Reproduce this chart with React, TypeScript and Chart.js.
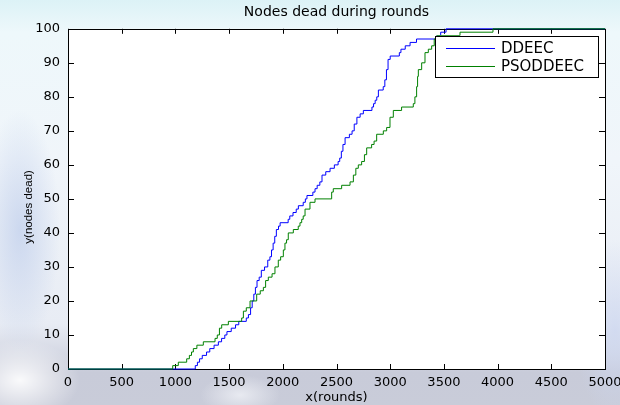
import React, { useEffect, useRef } from "react";
import { Chart, registerables } from "chart.js";

Chart.register(...registerables);

const chartTitle = "Nodes dead during rounds";
const xAxisTitle = "x(rounds)";
const yAxisTitle = "y(nodes dead)";
const seriesNames = ["DDEEC", "PSODDEEC"];
const seriesColors = ["#0000ff", "#008000"];

const ddeecX = [0, 1185, 1205, 1225, 1250, 1290, 1320, 1360, 1400, 1430, 1460, 1480, 1520, 1560, 1590, 1660, 1680, 1700, 1715, 1730, 1745, 1760, 1780, 1800, 1830, 1860, 1880, 1895, 1910, 1925, 1940, 1960, 1975, 2050, 2065, 2095, 2125, 2145, 2190, 2210, 2225, 2280, 2300, 2320, 2345, 2365, 2400, 2440, 2480, 2515, 2530, 2545, 2560, 2580, 2620, 2645, 2665, 2690, 2720, 2750, 2830, 2845, 2860, 2875, 2890, 2935, 2950, 2965, 2980, 3000, 3085, 3100, 3140, 3185, 3245, 3435, 3470, 3520, 5000];
const ddeecY = [0, 1, 2, 3, 4, 5, 6, 7, 8, 9, 10, 11, 12, 13, 14, 15, 16, 18, 20, 22, 24, 26, 27, 29, 30, 32, 33, 35, 37, 39, 41, 42, 43, 44, 45, 46, 47, 48, 49, 50, 51, 52, 53, 54, 55, 57, 58, 59, 60, 61, 62, 64, 66, 68, 69, 70, 72, 74, 75, 76, 77, 78, 79, 80, 82, 83, 85, 88, 91, 92, 93, 94, 95, 96, 97, 98, 99, 100, 100];

const psoX = [0, 975, 1027, 1105, 1130, 1150, 1167, 1200, 1260, 1369, 1390, 1410, 1431, 1493, 1617, 1633, 1660, 1695, 1757, 1790, 1819, 1840, 1865, 1900, 1927, 1958, 1980, 2005, 2020, 2035, 2051, 2098, 2144, 2160, 2176, 2190, 2207, 2253, 2300, 2455, 2470, 2548, 2626, 2657, 2680, 2703, 2734, 2760, 2781, 2827, 2850, 2874, 2936, 2967, 2998, 3029, 3106, 3215, 3230, 3246, 3255, 3262, 3293, 3324, 3355, 3386, 3410, 3433, 3650, 3957, 5000];
const psoY = [0, 1, 2, 3, 4, 5, 6, 7, 8, 9, 10, 12, 13, 14, 15, 17, 18, 20, 22, 23, 24, 26, 27, 28, 30, 32, 33, 35, 37, 38, 40, 41, 42, 43, 44, 45, 47, 49, 50, 52, 53, 54, 55, 57, 59, 60, 61, 63, 65, 66, 67, 69, 70, 71, 74, 76, 77, 78, 80, 83, 86, 88, 90, 93, 94, 95, 97, 98, 99, 100, 100];

const xTicks = [0, 500, 1000, 1500, 2000, 2500, 3000, 3500, 4000, 4500, 5000];
const yTicks = [0, 10, 20, 30, 40, 50, 60, 70, 80, 90, 100];

const toPoints = (xs: number[], ys: number[]) => xs.map((x, i) => ({ x, y: ys[i] }));

const framePlugin = {
  id: "matlabFrame",
  beforeDatasetsDraw(chart: any) {
    const { ctx, chartArea: a, scales } = chart;
    ctx.save();
    ctx.fillStyle = "#ffffff";
    ctx.fillRect(a.left, a.top, a.right - a.left, a.bottom - a.top);
    ctx.strokeStyle = "#000000";
    ctx.lineWidth = 1;
    ctx.beginPath();
    for (const v of xTicks) {
      const px = Math.round(scales.x.getPixelForValue(v)) + 0.5;
      ctx.moveTo(px, a.bottom);
      ctx.lineTo(px, a.bottom - 5);
      ctx.moveTo(px, a.top);
      ctx.lineTo(px, a.top + 5);
    }
    for (const v of yTicks) {
      const py = Math.round(scales.y.getPixelForValue(v)) + 0.5;
      ctx.moveTo(a.left, py);
      ctx.lineTo(a.left + 6, py);
      ctx.moveTo(a.right, py);
      ctx.lineTo(a.right - 6, py);
    }
    ctx.stroke();
    ctx.strokeRect(Math.round(a.left) + 0.5, Math.round(a.top) + 0.5, Math.round(a.right - a.left), Math.round(a.bottom - a.top));
    ctx.restore();
  },
  afterDraw(chart: any) {
    const { ctx, chartArea: a } = chart;
    ctx.save();
    ctx.translate(29, (a.top + a.bottom) / 2 + 8);
    ctx.rotate(-Math.PI / 2);
    ctx.font = "11.5px 'Liberation Sans'";
    ctx.fillStyle = "#000000";
    ctx.textAlign = "center";
    ctx.textBaseline = "middle";
    ctx.fillText(yAxisTitle, 0, 0);
    ctx.restore();

    ctx.save();
    const bx = a.right - 170, by = a.top + 7, bw = 163, bh = 41;
    ctx.fillStyle = "#ffffff";
    ctx.fillRect(bx, by, bw, bh);
    ctx.strokeStyle = "#000000";
    ctx.lineWidth = 1;
    ctx.strokeRect(Math.round(bx) + 0.5, Math.round(by) + 0.5, bw, bh);
    ctx.font = "15px 'DejaVu Sans'";
    ctx.textBaseline = "middle";
    ctx.fillStyle = "#000000";
    seriesNames.forEach((name, i) => {
      const y = by + 12.5 + i * 17.5;
      ctx.strokeStyle = seriesColors[i];
      ctx.beginPath();
      ctx.moveTo(bx + 11, Math.round(y) + 0.5);
      ctx.lineTo(bx + 60, Math.round(y) + 0.5);
      ctx.stroke();
      ctx.fillText(name, bx + 66, y + 1);
    });
    ctx.restore();
  },
};

export default function App() {
  const canvasRef = useRef<HTMLCanvasElement | null>(null);

  useEffect(() => {
    document.body.style.margin = "0";
    const canvas = canvasRef.current;
    if (!canvas) return;
    Chart.defaults.font.family = "'DejaVu Sans', sans-serif";
    const chart = new Chart(canvas, {
      type: "line",
      data: {
        datasets: [
          {
            label: seriesNames[0],
            data: toPoints(ddeecX, ddeecY),
            borderColor: seriesColors[0],
            backgroundColor: seriesColors[0],
            borderWidth: 1,
            pointRadius: 0,
            stepped: true,
            fill: false,
            clip: 3,
            order: 1,
          },
          {
            label: seriesNames[1],
            data: toPoints(psoX, psoY),
            borderColor: seriesColors[1],
            backgroundColor: seriesColors[1],
            borderWidth: 1,
            pointRadius: 0,
            stepped: true,
            fill: false,
            clip: 3,
            order: 0,
          },
        ],
      },
      options: {
        responsive: false,
        animation: false,
        devicePixelRatio: 1,
        layout: { padding: { left: 0, right: 15, top: 0, bottom: 0 } },
        plugins: {
          legend: { display: false },
          tooltip: { enabled: false },
          title: {
            display: true,
            text: chartTitle,
            fullSize: false,
            color: "#000000",
            font: { size: 14, weight: "normal", family: "'DejaVu Sans'" },
            padding: { top: 4, bottom: 8 },
          },
        },
        scales: {
          x: {
            type: "linear",
            min: 0,
            max: 5000,
            afterBuildTicks: (scale: any) => {
              scale.ticks = xTicks.map((v) => ({ value: v }));
            },
            afterFit: (scale: any) => {
              scale.height = 36;
              scale.paddingLeft = 0;
              scale.paddingRight = 0;
            },
            grid: { display: false, drawTicks: false },
            border: { display: false },
            ticks: {
              color: "#000000",
              padding: 6,
              maxRotation: 0,
              autoSkip: false,
              font: { size: 13 },
              callback: (v: any) => String(v),
            },
            title: {
              display: true,
              text: xAxisTitle,
              color: "#000000",
              font: { size: 13 },
              padding: { top: 0, bottom: 0 },
            },
          },
          y: {
            type: "linear",
            min: 0,
            max: 100,
            afterBuildTicks: (scale: any) => {
              scale.ticks = yTicks.map((v) => ({ value: v }));
            },
            afterFit: (scale: any) => {
              scale.width = 68;
              scale.paddingTop = 0;
              scale.paddingBottom = 0;
            },
            grid: { display: false, drawTicks: false },
            border: { display: false },
            ticks: {
              color: "#000000",
              padding: 8,
              autoSkip: false,
              font: { size: 13 },
              callback: (v: any) => String(v),
            },
            title: { display: false },
          },
        },
      },
      plugins: [framePlugin],
    });
    return () => chart.destroy();
  }, []);

  const bg = [
    "radial-gradient(ellipse 40px 120px at 20px 230px, rgba(190,205,235,0.7), rgba(190,205,235,0))",
    "radial-gradient(ellipse 60px 40px at 20px 380px, rgba(255,255,255,0.9), rgba(255,255,255,0))",
    "radial-gradient(ellipse 40px 20px at 240px 395px, rgba(235,237,243,0.9), rgba(235,237,243,0))",
    "radial-gradient(ellipse 40px 90px at 615px 330px, rgba(205,215,240,0.8), rgba(205,215,240,0))",
    "linear-gradient(180deg, #dcf2f6 0%, #eef8fb 8%, #f0f5fa 40%, #e8ecf4 80%, #c8cbd9 92%, #c9ccd9 100%)",
  ].join(", ");

  return (
    <div style={{ width: 620, height: 405, position: "relative", background: bg }}>
      <canvas ref={canvasRef} width={620} height={405} style={{ display: "block", width: 620, height: 405 }} />
    </div>
  );
}
